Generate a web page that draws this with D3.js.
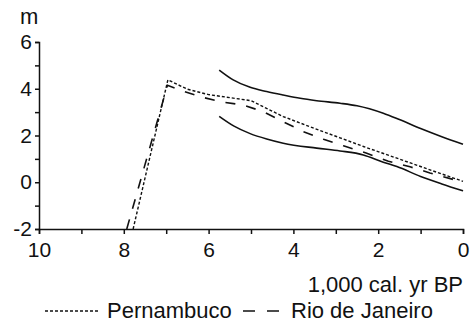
<!DOCTYPE html>
<html>
<head>
<meta charset="utf-8">
<script src="https://cdn.jsdelivr.net/npm/d3@7"></script>
<style>
  body { margin: 0; background: #fff; }
  text { font-family: "Liberation Sans", Arial, sans-serif; fill: #111; }
</style>
</head>
<body>
<svg width="476" height="324"></svg>
<script>
// [kyr BP, m]
const pernambuco = [[7.78,-2],[6.96,4.38],[6.5,3.98],[6.0,3.75],[5.5,3.62],[5.0,3.49],
  [4.24,2.81],[3.5,2.3],[2.9,1.9],[2.35,1.53],[1.56,1.03],[0.78,0.53],[0,0.04]];
const rioDeJaneiro = [[7.93,-2],[6.97,4.15],[6.6,3.9],[6.2,3.66],[5.73,3.45],[5.18,3.3],
  [4.71,3.02],[4.24,2.59],[3.77,2.17],[3.29,1.84],[2.82,1.56],[2.27,1.24],[1.76,0.9],
  [1.25,0.66],[0.78,0.4],[0.23,0.12],[0,0.05]];
const upperBand = [[5.75,4.8],[5.42,4.38],[5.02,4.06],[4.63,3.88],[4.24,3.73],[3.84,3.59],
  [3.45,3.49],[2.9,3.38],[2.5,3.27],[1.88,2.95],[1.5,2.68],[1.0,2.3],[0.5,1.95],[0,1.63]];
const lowerBand = [[5.75,2.82],[5.4,2.4],[5.02,2.08],[4.63,1.85],[4.24,1.67],[3.45,1.46],
  [2.9,1.34],[2.35,1.17],[1.88,0.86],[1.56,0.67],[1.0,0.25],[0.5,-0.07],[0,-0.37]];
const xTicks = [10,9,8,7,6,5,4,3,2,1,0];
const yTicks = [-2,-1,0,1,2,3,4,5,6];

const svg = d3.select("svg");
const xScale = d3.scaleLinear().domain([10, 0]).range([39, 463]);
const yScale = d3.scaleLinear().domain([-2, 6]).range([229, 42]);

// axes
let xAxis = d3.axisBottom(xScale).tickValues(xTicks)
  .tickFormat(d => d % 2 === 0 ? d : "").tickSizeOuter(0).tickSize(5).tickPadding(8);
svg.append("g").attr("id", "xAxisG")
  .attr("transform", "translate(0," + yScale(-2) + ")").call(xAxis);

let yAxis = d3.axisLeft(yScale).tickValues(yTicks)
  .tickFormat(d => d % 2 === 0 ? d : "").tickSizeOuter(0).tickSize(4).tickPadding(3);
svg.append("g").attr("id", "yAxisG")
  .attr("transform", "translate(" + xScale(10) + ",0)").call(yAxis);

svg.selectAll(".domain, .tick line").attr("stroke", "#111").attr("stroke-width", 1.5);
svg.selectAll(".tick text").style("font-size", "21px").attr("fill", "#111")
  .style("font-family", "Liberation Sans, Arial, sans-serif");

// lines
const line = d3.line().x(d => xScale(d[0])).y(d => yScale(d[1]));
const smooth = d3.line().x(d => xScale(d[0])).y(d => yScale(d[1])).curve(d3.curveMonotoneX);

svg.append("path").attr("d", smooth(upperBand))
  .attr("fill", "none").attr("stroke", "#111").attr("stroke-width", 1.6);
svg.append("path").attr("d", smooth(lowerBand))
  .attr("fill", "none").attr("stroke", "#111").attr("stroke-width", 1.6);
svg.append("path").attr("d", line(rioDeJaneiro))
  .attr("fill", "none").attr("stroke", "#111").attr("stroke-width", 1.6)
  .attr("stroke-dasharray", "10,11");
svg.append("path").attr("d", line(pernambuco))
  .attr("fill", "none").attr("stroke", "#111").attr("stroke-width", 1.4)
  .attr("stroke-dasharray", "3,2");

// labels
svg.append("text").attr("x", 20).attr("y", 24).style("font-size", "22px").text("m");
svg.append("text").attr("x", 463).attr("y", 292).attr("text-anchor", "end")
  .style("font-size", "22px").text("1,000 cal. yr BP");

// legend
svg.append("line").attr("x1", 45).attr("x2", 98).attr("y1", 311).attr("y2", 311)
  .attr("stroke", "#111").attr("stroke-width", 1.4).attr("stroke-dasharray", "3,2");
svg.append("text").attr("x", 107).attr("y", 318).style("font-size", "22px").text("Pernambuco");
svg.append("line").attr("x1", 243).attr("x2", 280).attr("y1", 311).attr("y2", 311)
  .attr("stroke", "#111").attr("stroke-width", 1.6).attr("stroke-dasharray", "12,12");
svg.append("text").attr("x", 291).attr("y", 318).style("font-size", "22px").text("Rio de Janeiro");
</script>
</body>
</html>
